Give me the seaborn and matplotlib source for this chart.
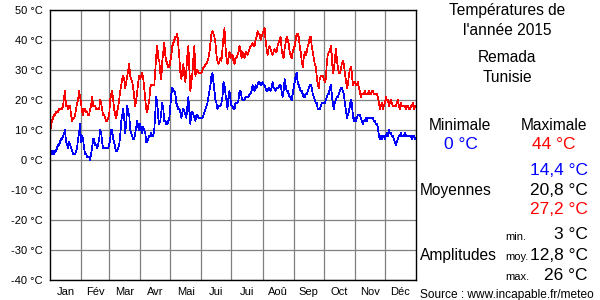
import numpy as np
import pandas as pd
import seaborn as sns
import matplotlib
matplotlib.use("Agg")
import matplotlib.pyplot as plt

# daily temperatures 2015, Remada (Tunisie)
tmax = [
    # Jan
    8, 12, 13, 14, 15, 15, 16, 16, 16, 17, 17, 17, 17, 18, 21, 23, 18, 18, 17, 18,
    18, 15, 13, 14, 14, 15, 17, 19, 20, 23, 21,
    # Fev
    19, 16, 15, 17, 17, 16, 16, 15, 15, 17, 18, 21, 18, 18, 18, 17, 17, 17, 17, 20,
    19, 17, 15, 15, 14, 13, 13, 14,
    # Mar
    15, 20, 22, 23, 20, 17, 15, 14, 16, 18, 20, 23, 25, 27, 28, 27, 24, 26, 28, 30,
    32, 28, 27, 26, 24, 21, 18, 20, 23, 26, 28,
    # Avr
    27, 28, 29, 27, 24, 20, 17, 16, 18, 20, 24, 25, 25, 25, 25, 30, 35, 38, 34, 33,
    29, 27, 33, 36, 39, 35, 33, 32, 31, 31,
    # Mai
    33, 35, 38, 39, 40, 41, 41, 42, 38, 34, 29, 27, 30, 32, 28, 26, 30, 35, 38, 30,
    23, 26, 29, 34, 38, 28, 30, 30, 29, 29, 29,
    # Juin
    29, 30, 31, 31, 32, 32, 33, 34, 36, 39, 42, 43, 42, 41, 39, 35, 33, 32, 33, 34,
    33, 37, 41, 44, 38, 34, 32, 34, 36, 34,
    # Juil
    35, 35, 33, 32, 34, 34, 35, 36, 38, 37, 34, 36, 35, 34, 36, 36, 35, 36, 37, 38,
    38, 39, 38, 38, 40, 41, 43, 42, 42, 40, 41,
    # Aout
    42, 43, 44, 40, 37, 35, 37, 38, 37, 36, 35, 36, 37, 36, 36, 38, 39, 40, 41, 37,
    35, 34, 37, 39, 41, 40, 39, 36, 35, 34, 36,
    # Sep
    37, 38, 40, 42, 42, 41, 38, 36, 33, 31, 34, 36, 35, 36, 38, 39, 41, 41, 38, 36,
    34, 32, 31, 28, 25, 24, 27, 28, 28, 28,
    # Oct
    27, 26, 27, 32, 35, 36, 36, 38, 35, 29, 30, 33, 37, 34, 31, 29, 29, 30, 32, 33,
    32, 29, 27, 24, 25, 28, 30, 31, 29, 25, 26,
    # Nov
    26, 25, 25, 26, 24, 23, 21, 22, 22, 22, 23, 22, 22, 22, 23, 22, 22, 23, 23, 22,
    22, 22, 22, 21, 19, 17, 18, 19, 17, 18,
    # Dec
    19, 21, 20, 20, 18, 19, 20, 19, 18, 18, 18, 18, 19, 20, 18, 17, 19, 18, 18, 18,
    18, 17, 18, 18, 17, 17, 18, 18, 19, 17, 18,
]

tmin = [
    # Jan
    2, 3, 2, 3, 2, 3, 3, 4, 5, 5, 6, 7, 7, 8, 9, 10, 6, 5, 4, 6,
    5, 4, 3, 2, 2, 2, 3, 4, 7, 9, 12,
    # Fev
    6, 8, 7, 4, 2, 2, 1, 1, 1, 0, 2, 4, 7, 7, 5, 5, 4, 5, 7, 10,
    9, 6, 4, 4, 4, 4, 4, 4,
    # Mar
    5, 7, 10, 10, 7, 6, 4, 3, 3, 4, 5, 8, 13, 15, 17, 14, 9, 12, 18, 16,
    15, 10, 9, 8, 7, 7, 9, 11, 13, 11, 10,
    # Avr
    12, 10, 9, 11, 10, 9, 6, 6, 7, 8, 8, 9, 8, 8, 10, 16, 21, 19, 14, 12,
    13, 16, 19, 17, 13, 13, 12, 12, 13, 14,
    # Mai
    18, 22, 24, 23, 23, 22, 19, 18, 17, 17, 16, 14, 16, 17, 16, 15, 14, 18, 21, 16,
    12, 16, 16, 15, 14, 13, 15, 15, 14, 14, 14,
    # Juin
    14, 14, 15, 16, 17, 18, 19, 21, 23, 25, 28, 29, 26, 23, 20, 19, 17, 18, 18, 18,
    19, 21, 26, 25, 22, 20, 17, 21, 23, 20,
    # Juil
    18, 18, 17, 17, 19, 19, 19, 20, 23, 23, 21, 20, 20, 20, 21, 21, 21, 21, 22, 22,
    23, 25, 24, 23, 25, 24, 25, 26, 26, 25, 25,
    # Aout
    26, 25, 25, 24, 23, 23, 24, 24, 23, 24, 26, 24, 24, 23, 24, 24, 24, 25, 25, 23,
    21, 23, 27, 25, 23, 23, 22, 21, 21, 20, 22,
    # Sep
    24, 26, 28, 29, 26, 25, 24, 23, 23, 22, 21, 21, 22, 22, 23, 24, 25, 25, 24, 22,
    21, 20, 19, 19, 17, 17, 17, 18, 19, 19,
    # Oct
    19, 19, 20, 21, 22, 22, 24, 25, 22, 19, 17, 19, 20, 21, 21, 22, 23, 24, 24, 23,
    22, 19, 17, 14, 15, 16, 18, 20, 19, 15, 13,
    # Nov
    14, 13, 14, 15, 15, 15, 14, 13, 12, 13, 13, 14, 13, 14, 14, 14, 14, 14, 14, 13,
    13, 12, 12, 11, 8, 7, 8, 7, 8, 8,
    # Dec
    7, 8, 9, 8, 10, 9, 9, 8, 8, 7, 6, 5, 6, 7, 8, 8, 9, 8, 8, 8,
    9, 8, 8, 8, 8, 8, 8, 7, 8, 8, 7,
]

months = ["Jan", "Fév", "Mar", "Avr", "Mai", "Jui", "Jui", "Aoû", "Sep", "Oct", "Nov", "Déc"]
month_len = [31, 28, 31, 30, 31, 30, 31, 31, 30, 31, 30, 31]
yticks = list(range(-40, 51, 10))

df = pd.DataFrame({"jour": np.arange(len(tmax)), "max": tmax, "min": tmin})

sns.set_style("white")
plt.rcParams["font.family"] = ["Liberation Sans", "DejaVu Sans"]

fig = plt.figure(figsize=(6, 3), dpi=100)
ax = fig.add_axes([50 / 600, 20 / 300, 366 / 600, 270 / 300])

sns.lineplot(data=df, x="jour", y="min", color="#0000ff", lw=0.5, ax=ax)
sns.lineplot(data=df, x="jour", y="max", color="#ff0000", lw=0.5, ax=ax)
for ln in ax.lines:
    ln.set_antialiased(False)

starts = np.concatenate([[0], np.cumsum(month_len)])
ax.set_xlim(0, 365)
ax.set_ylim(-40, 50)
ax.set_xticks(starts[1:-1])
ax.set_xticklabels([])
ax.set_xticks((starts[:-1] + starts[1:]) / 2, minor=True)
ax.set_xticklabels(months, minor=True)
ax.set_yticks(yticks)
ax.set_yticklabels([f"{v} °C" for v in yticks])
ax.tick_params(axis="both", which="both", length=0, labelsize=8, colors="black")
ax.tick_params(axis="x", which="minor", pad=5)
ax.tick_params(axis="y", pad=5)
ax.grid(True, which="major", color="#808080", lw=0.9)
ax.set_axisbelow(True)
ax.set_xlabel("")
ax.set_ylabel("")
for sp in ax.spines.values():
    sp.set_color("black")
    sp.set_linewidth(1.0)


def put(x, y, s, size=11.2, color="black", ha="center"):
    fig.text(x / 600, 1 - y / 300, s, fontsize=size, color=color, ha=ha, va="baseline")


put(507, 15, "Températures de")
put(507, 35, "l'année 2015")
put(507, 62, "Remada")
put(507, 82, "Tunisie")
put(460, 130, "Minimale")
put(554, 130, "Maximale")
put(461, 149, "0 °C", size=12.5, color="#0000ff")
put(554, 149, "44 °C", size=12.5, color="#ff0000")
put(588, 175, "14,4 °C", size=12.5, color="#0000ff", ha="right")
put(420, 195, "Moyennes", ha="left")
put(588, 195, "20,8 °C", size=12.5, ha="right")
put(588, 214, "27,2 °C", size=12.5, color="#ff0000", ha="right")
put(505, 240, "min.", size=8, ha="left")
put(588, 239, "3 °C", size=12.5, ha="right")
put(420, 260, "Amplitudes", ha="left")
put(505, 260, "moy.", size=8, ha="left")
put(588, 260, "12,8 °C", size=12.5, ha="right")
put(505, 280, "max.", size=8, ha="left")
put(588, 280, "26 °C", size=12.5, ha="right")
put(420, 298, "Source : www.incapable.fr/meteo", size=8.6, ha="left")

fig.savefig("out.png", dpi=100)
